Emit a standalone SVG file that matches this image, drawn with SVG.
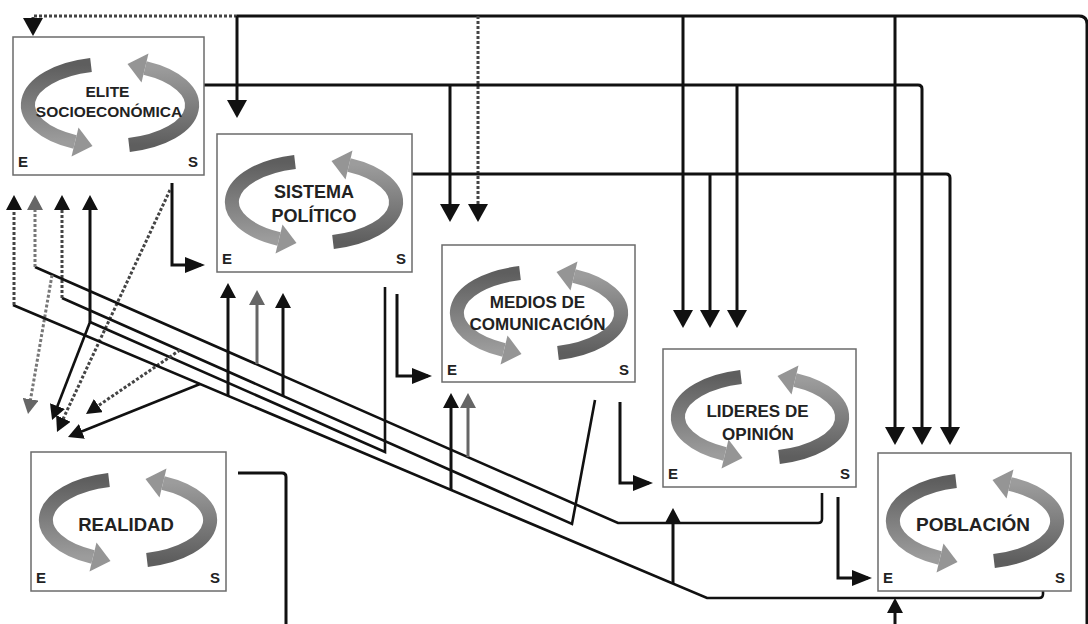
<svg xmlns="http://www.w3.org/2000/svg" width="1088" height="624" viewBox="0 0 1088 624">
<defs>
<style>
.box{fill:#fff;stroke:#6b6b6b;stroke-width:1.5}
.lbl{font-family:"Liberation Sans",Arial,sans-serif;font-weight:bold;fill:#222;text-anchor:middle}
.es{font-family:"Liberation Sans",Arial,sans-serif;font-weight:bold;font-size:15px;fill:#222}
.ln{fill:none;stroke:#111;stroke-width:3}
.dg{fill:none;stroke:#111;stroke-width:2.6}
.dot{fill:none;stroke:#444;stroke-width:3;stroke-dasharray:3 2}
.dotg{fill:none;stroke:#777;stroke-width:3;stroke-dasharray:3 2}
.gr{fill:none;stroke:#666;stroke-width:3}
</style>
<linearGradient id="gL" x1="0" y1="0" x2="0" y2="1"><stop offset="0" stop-color="#5e5e5e"/><stop offset="1" stop-color="#9c9c9c"/></linearGradient>
<g id="half">
<path d="M78,28 A82,41 0 0 0 62,105" fill="none" stroke="url(#gL)" stroke-width="14"/>
<polygon points="79.5,109.1 58.5,119.6 65.5,90.4" fill="#959595"/>
</g>
<g id="cycle"><use href="#half"/><use href="#half" transform="rotate(180 97 68)"/></g>
<marker id="hb" markerUnits="userSpaceOnUse" markerWidth="18" markerHeight="20" refX="14" refY="10" orient="auto"><path d="M0,0 L18,10 L0,20 z" fill="#111"/></marker>
<marker id="hm" markerUnits="userSpaceOnUse" markerWidth="15" markerHeight="16" refX="11" refY="8" orient="auto"><path d="M0,0 L15,8 L0,16 z" fill="#111"/></marker>
<marker id="hmg" markerUnits="userSpaceOnUse" markerWidth="15" markerHeight="16" refX="11" refY="8" orient="auto"><path d="M0,0 L15,8 L0,16 z" fill="#666"/></marker>
<marker id="hr" markerUnits="userSpaceOnUse" markerWidth="20" markerHeight="16" refX="16" refY="8" orient="auto"><path d="M0,0 L20,8 L0,16 z" fill="#111"/></marker>
</defs>
<rect width="1088" height="624" fill="#fff"/>

<g id="connectors">
<path class="ln" d="M238,473 H282 Q286,473 286,477 V626"/>
<path class="ln" d="M237,16 H1079 Q1087,16 1087,24 V626"/>
<path class="ln" d="M895,626 V602" marker-end="url(#hm)"/>
<path class="dot" d="M237,16 H33 V32" marker-end="url(#hb)"/>
<path class="ln" d="M237,16 V114" marker-end="url(#hb)"/>
<path class="dot" d="M478,16 V218" marker-end="url(#hb)"/>
<path class="ln" d="M683,16 V324" marker-end="url(#hb)"/>
<path class="ln" d="M895,16 V441" marker-end="url(#hb)"/>
<path class="ln" d="M204,85 H918 Q922,85 922,89 V441" marker-end="url(#hb)"/>
<path class="ln" d="M450,85 V218" marker-end="url(#hb)"/>
<path class="ln" d="M737,85 V324" marker-end="url(#hb)"/>
<path class="ln" d="M172,183 V265 H201" marker-end="url(#hr)"/>
<path class="dot" d="M170,190 L58.7,428.4" marker-end="url(#hm)"/>
<path class="ln" d="M412,174 H946 Q950,174 950,178 V441" marker-end="url(#hb)"/>
<path class="ln" d="M710,174 V324" marker-end="url(#hb)"/>
<path class="ln" d="M397,294 V376 H428" marker-end="url(#hr)"/>
<path class="dg" d="M385,287 V452 L90,322"/>
<path class="ln" d="M90,322 V199" marker-end="url(#hm)"/>
<path class="dg" d="M90,322 L53.5,416.3" marker-end="url(#hm)"/>
<path class="ln" d="M620,402 V483 H649" marker-end="url(#hr)"/>
<path class="dg" d="M595,400 L572,524 L62,298"/>
<path class="dot" d="M62,298 V199" marker-end="url(#hm)"/>
<path class="ln" d="M283,396 V297" marker-end="url(#hm)"/>
<path class="dot" d="M180,350 L89.3,411.8" marker-end="url(#hm)"/>
<path class="ln" d="M838,497 V578 H868" marker-end="url(#hr)"/>
<path class="dg" d="M822,493 V519 Q822,523 818,523 H618 L35,267"/>
<path class="dotg" d="M35,267 V199" marker-end="url(#hmg)"/>
<path class="gr" d="M257,364 V294" marker-end="url(#hmg)"/>
<path class="gr" d="M468,457 V397" marker-end="url(#hmg)"/>
<path class="dotg" d="M52,275 L28.7,410.1" marker-end="url(#hmg)"/>
<path class="dg" d="M1043,591 V594 Q1043,598 1039,598 H707 L13,305"/>
<path class="dot" d="M14,305 V199" marker-end="url(#hm)"/>
<path class="ln" d="M228,396 V287" marker-end="url(#hm)"/>
<path class="ln" d="M451,490 V397" marker-end="url(#hm)"/>
<path class="ln" d="M673,584 V512" marker-end="url(#hm)"/>
<path class="dg" d="M200,384 L71.7,435.5" marker-end="url(#hm)"/>
</g>

<g id="elite" transform="translate(13,37)">
<rect class="box" width="191" height="138"/>
<use href="#cycle"/>
<text class="lbl" x="94.5" y="60" font-size="15.5">ELITE</text>
<text class="lbl" x="96" y="80" font-size="15.5">SOCIOECONÓMICA</text>
<text class="es" x="5" y="130">E</text>
<text class="es" x="185" y="130" text-anchor="end">S</text>
</g>

<g id="sistema" transform="translate(217,134)">
<rect class="box" width="195" height="138"/>
<use href="#cycle"/>
<text class="lbl" x="97" y="64" font-size="18">SISTEMA</text>
<text class="lbl" x="97" y="88" font-size="18">POLÍTICO</text>
<text class="es" x="5" y="130">E</text>
<text class="es" x="189" y="130" text-anchor="end">S</text>
</g>

<g id="medios" transform="translate(442,245)">
<rect class="box" width="193" height="137"/>
<use href="#cycle"/>
<text class="lbl" x="95.5" y="63" font-size="17">MEDIOS DE</text>
<text class="lbl" x="95.5" y="85" font-size="17">COMUNICACIÓN</text>
<text class="es" x="5" y="130">E</text>
<text class="es" x="187" y="130" text-anchor="end">S</text>
</g>

<g id="lideres" transform="translate(663,349)">
<rect class="box" width="193" height="138"/>
<use href="#cycle"/>
<text class="lbl" x="94.5" y="68" font-size="17">LIDERES DE</text>
<text class="lbl" x="95" y="91" font-size="17">OPINIÓN</text>
<text class="es" x="5" y="130">E</text>
<text class="es" x="187" y="130" text-anchor="end">S</text>
</g>

<g id="poblacion" transform="translate(878,453)">
<rect class="box" width="193" height="138"/>
<use href="#cycle"/>
<text class="lbl" x="95" y="78" font-size="19">POBLACIÓN</text>
<text class="es" x="5" y="130">E</text>
<text class="es" x="187" y="130" text-anchor="end">S</text>
</g>

<g id="realidad" transform="translate(31,452)">
<rect class="box" width="195" height="139"/>
<use href="#cycle"/>
<text class="lbl" x="95" y="79" font-size="18.5">REALIDAD</text>
<text class="es" x="5" y="131">E</text>
<text class="es" x="189" y="131" text-anchor="end">S</text>
</g>
</svg>
